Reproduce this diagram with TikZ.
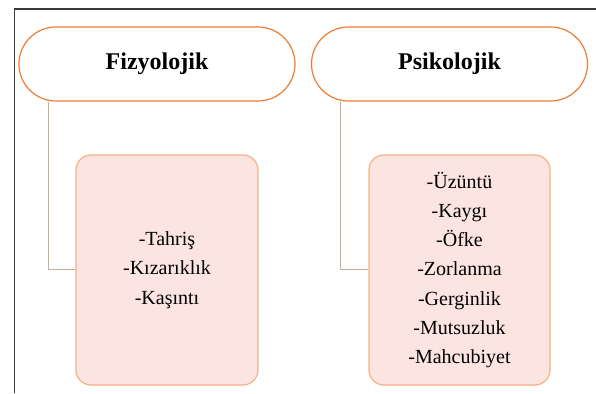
\documentclass[tikz,border=0pt]{standalone}
\usepackage{fontspec}
\setmainfont{Liberation Serif}
\begin{document}
\begin{tikzpicture}[x=1pt,y=1pt,
  pill/.style={draw=pillline, line width=1.2pt, fill=white, rounded corners=37pt,
    minimum width=276pt, minimum height=74pt, inner sep=0pt,
    font=\fontsize{24}{29}\selectfont\bfseries},
  listbox/.style={draw=boxline, line width=1.2pt, fill=boxfill, rounded corners=15pt,
    minimum height=230pt, inner sep=0pt, align=center,
    font=\fontsize{20}{29.2}\selectfont},
  link/.style={draw=linkline, line width=1pt},
  frame/.style={draw=frameline, line width=1.3pt}]
\definecolor{pillline}{HTML}{ED7D31}
\definecolor{boxline}{HTML}{F4B183}
\definecolor{boxfill}{HTML}{FCE4E0}
\definecolor{linkline}{HTML}{C8AE98}
\definecolor{frameline}{HTML}{3A3A3A}
\useasboundingbox (0,0) rectangle (596,393);
\coordinate (fr) at (596,384);
\coordinate (fc) at (14.5,384);
\coordinate (fb) at (14.5,0);
\draw[frame] (fr) -- (fc) -- (fb);
\node[pill] (fizy) at (157,329) {Fizyolojik};
\node[pill] (psik) at (449.5,329) {Psikolojik};
\node[listbox, minimum width=182pt] (lbox) at (167,123) {-Tahriş\\-Kızarıklık\\-Kaşıntı};
\node[listbox, minimum width=181pt] (rbox) at (459.5,123) {-Üzüntü\\-Kaygı\\-Öfke\\-Zorlanma\\-Gerginlik\\-Mutsuzluk\\-Mahcubiyet};
\draw[link] ([xshift=-109pt]fizy.south) |- (lbox.west);
\draw[link] ([xshift=-109.5pt]psik.south) |- (rbox.west);
\end{tikzpicture}
\end{document}
